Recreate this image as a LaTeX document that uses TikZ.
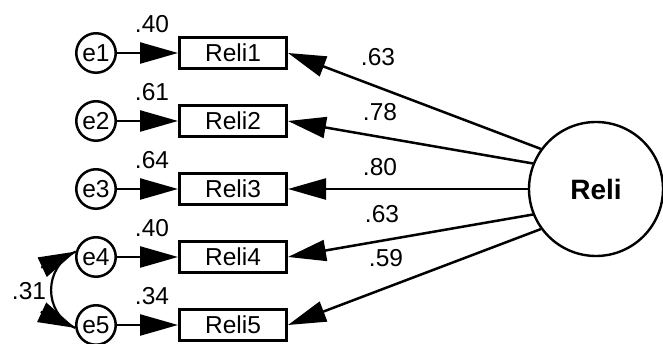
\documentclass[tikz,border=0pt]{standalone}
\usepackage{fontspec}
\setmainfont{Liberation Sans}
\usetikzlibrary{arrows.meta}
\begin{document}
\begin{tikzpicture}[x=1pt,y=1pt,
  txt/.style={font=\fontsize{24.5}{29}\selectfont},
  errc/.style={circle, draw, line width=2.5pt, minimum size=39.5pt, inner sep=0pt, txt},
  obs/.style={rectangle, draw, line width=3pt, minimum width=107pt, minimum height=31pt, inner sep=0pt, txt},
  latc/.style={circle, draw, line width=2.4pt, minimum size=134pt, inner sep=0pt, font=\bfseries\fontsize{28}{34}\selectfont},
  lbl/.style={inner sep=0pt, txt},
  conn/.style={line width=2.5pt, -{Triangle[length=38pt,width=21pt]}},
  covline/.style={line width=2.2pt},
  headonly/.style={line width=2.2pt, -{Triangle[length=37pt,width=21pt]}}
]
\useasboundingbox (0,0) rectangle (663,344);
\foreach \i/\y/\v in {1/291/.40, 2/223/.61, 3/155/.64, 4/87/.40, 5/19/.34} {
  \node[errc] (e\i) at (96,\y) {e\i};
  \node[obs] (b\i) at (233,\y) {Reli\i};
  \node[lbl] (r\i) at (152,\y+29) {\v};
  \draw[conn] (e\i) -- (b\i);
}
\node[latc] (reli) at (596,155) {Reli};
\foreach \i/\a/\lx/\ly/\v in {1/144/378/287/.63, 2/158/380/232/.78, 3/180/380/177/.80, 4/202/382/130/.63, 5/216/386/86/.59} {
  \draw[conn] (reli.\a) -- (b\i.east);
  \node[lbl] (w\i) at (\lx,\ly) {\v};
}
\draw[covline] (e4.165) to[out=205,in=155,looseness=1.2] (e5.188);
\draw[headonly] ([shift={(205:38pt)}]e4.165) -- (e4.165);
\draw[headonly] ([shift={(155:38pt)}]e5.188) -- (e5.188);
\node[lbl] (c45) at (29,53) {.31};
\end{tikzpicture}
\end{document}
